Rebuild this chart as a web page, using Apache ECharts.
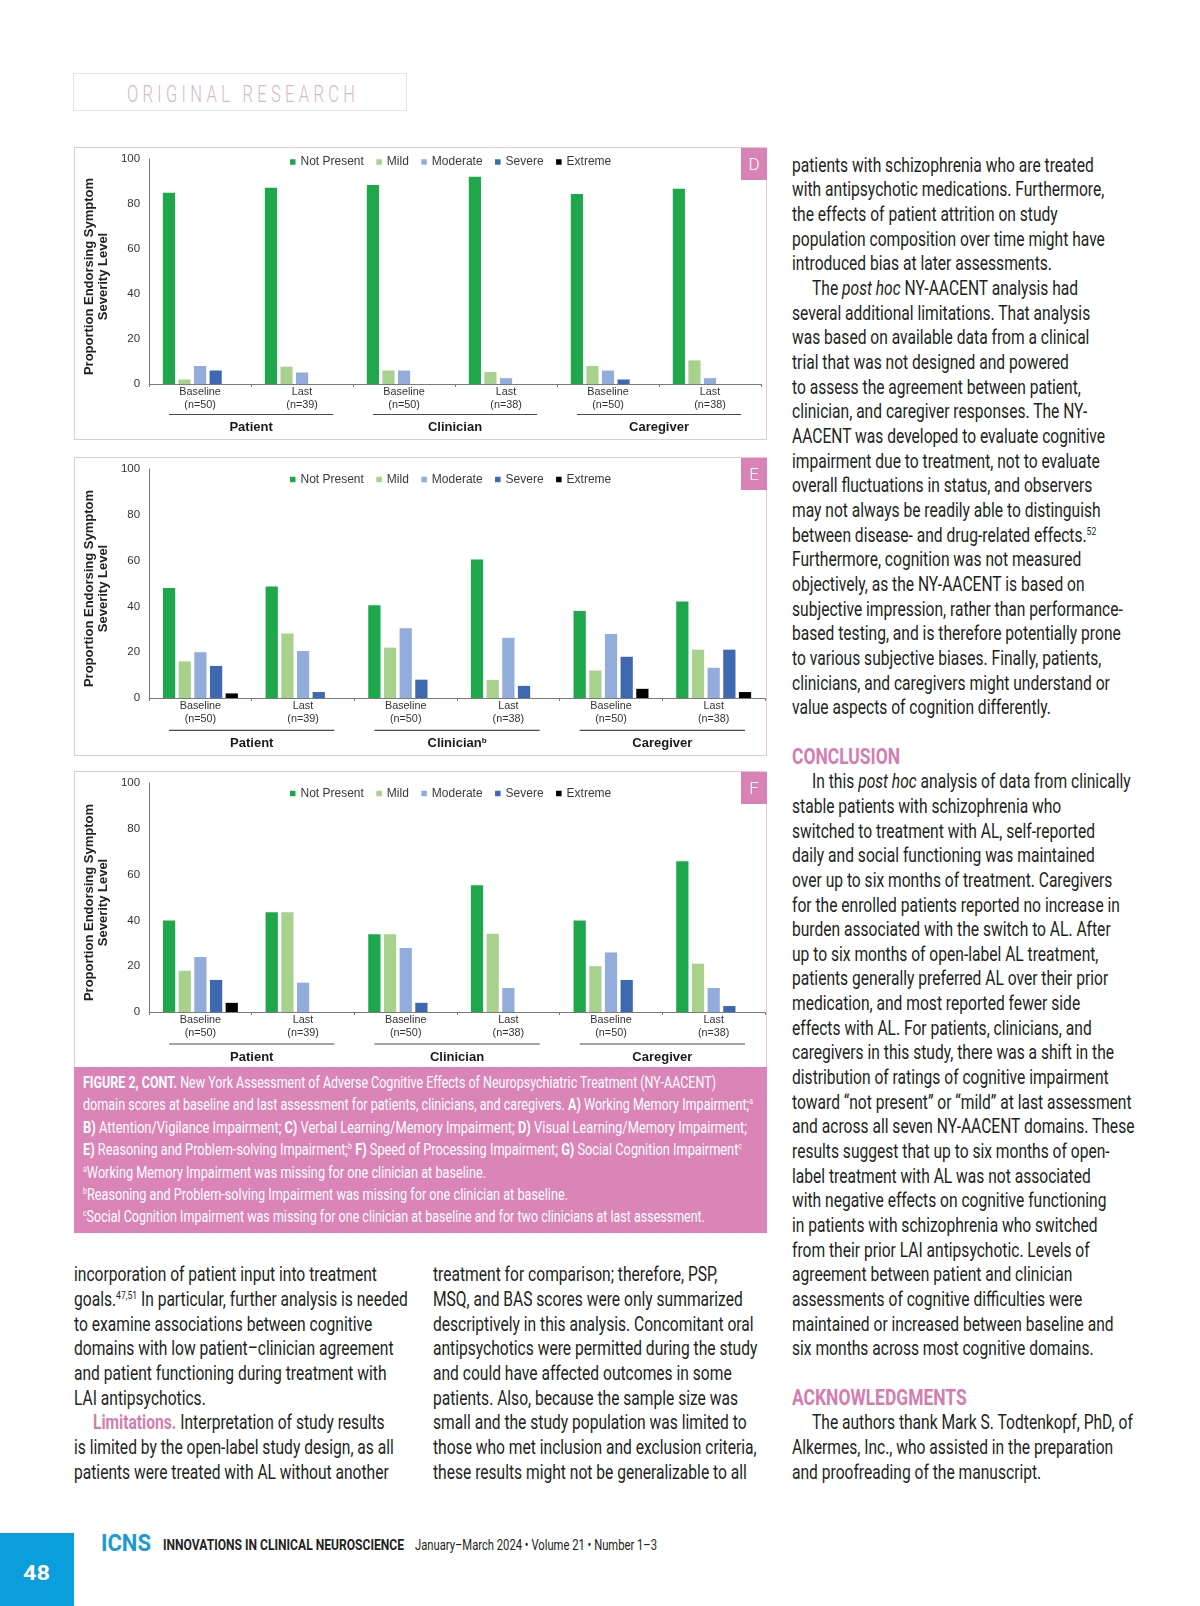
<!DOCTYPE html>
<html>
<head>
<meta charset="utf-8">
<script src="https://cdn.jsdelivr.net/npm/echarts/dist/echarts.min.js"></script>
<style>
html,body{margin:0;padding:0;background:#fff;}
body{width:1200px;height:1606px;position:relative;overflow:hidden;font-family:Roboto,"Liberation Sans",sans-serif;color:#231f20;}
.frame{position:absolute;border:1.5px solid #e8c8da;box-sizing:border-box;}
.chart{position:absolute;}
.tag{position:absolute;background:#d982b5;color:#fff;text-align:center;font-family:Roboto,sans-serif;font-weight:300;font-size:17px;line-height:32px;width:26px;height:32px;}
.ln{position:absolute;white-space:nowrap;transform-origin:0 0;}
.body{font-size:20.5px;line-height:24.66px;color:#231f20;}
.head{font-size:22.5px;line-height:24.66px;font-weight:bold;color:#d47db0;}
.pink{color:#d47db0;font-weight:bold;}
.cap{font-size:16.5px;line-height:22px;color:#fff;}
.sup{font-size:0.55em;vertical-align:0.65em;line-height:0;}
.ficns{font-size:23px;line-height:1;font-weight:bold;color:#1b9ad7;}
.fjour{font-size:15px;line-height:1;font-weight:bold;color:#231f20;}
.fdate{font-size:15px;line-height:1;color:#231f20;}
.fpage{font-size:21px;line-height:1;font-weight:bold;color:#fff;}
.orig{font-size:23px;line-height:1;font-weight:300;color:#dab8ca;}
#capbox{position:absolute;left:74px;top:1067px;width:693px;height:166px;background:#da84b7;}
#origbox{position:absolute;left:73px;top:73px;width:334px;height:38px;border:1px solid #ece4e8;box-sizing:border-box;}
#pagebox{position:absolute;left:0;top:1533px;width:74px;height:73px;background:#0a9fdc;}
</style>
</head>
<body>
<div id="origbox"></div>
<div class="frame" style="left:74px;top:147px;width:693px;height:293px;"></div>
<div class="frame" style="left:74px;top:457px;width:693px;height:299px;"></div>
<div class="frame" style="left:74px;top:771px;width:693px;height:297px;"></div>
<div id="capbox"></div>
<div id="pagebox"></div>
<div id="chartD" class="chart" style="left:74px;top:147px;width:693px;height:292px;"></div>
<div id="chartE" class="chart" style="left:74px;top:457px;width:693px;height:298px;"></div>
<div id="chartF" class="chart" style="left:74px;top:771px;width:693px;height:296px;"></div>
<div class="tag" style="left:741px;top:148px;">D</div>
<div class="tag" style="left:741px;top:458px;">E</div>
<div class="tag" style="left:741px;top:772px;">F</div>

<script>
// ---------------- DATA ----------------
const categories = ['Patient Baseline','Patient Last','Clinician Baseline','Clinician Last','Caregiver Baseline','Caregiver Last'];
const timepoints = ['Baseline','Last','Baseline','Last','Baseline','Last'];
const sampleSizes = [50, 39, 50, 38, 50, 38];
const raterGroups = ['Patient','Clinician','Caregiver'];
const severityLevels = ['Not Present','Mild','Moderate','Severe','Extreme'];
const yAxisName = 'Proportion Endorsing Symptom\nSeverity Level';

// Panel D – Visual Learning/Memory Impairment
const dNotPresent = [85, 87.2, 88.5, 92.1, 84.5, 86.8];
const dMild       = [2, 7.7, 6, 5.3, 8, 10.5];
const dModerate   = [8, 5.1, 6, 2.6, 6, 2.6];
const dSevere     = [6, 0, 0, 0, 2, 0];
const dExtreme    = [0, 0, 0, 0, 0, 0];

// Panel E – Reasoning and Problem-solving Impairment
const eNotPresent = [48, 48.7, 40.5, 60.5, 38, 42.1];
const eMild       = [16, 28.2, 22, 7.9, 12, 21.1];
const eModerate   = [20, 20.5, 30.5, 26.3, 28, 13.2];
const eSevere     = [14, 2.6, 8, 5.3, 18, 21.1];
const eExtreme    = [2, 0, 0, 0, 4, 2.6];

// Panel F – Speed of Processing Impairment
const fNotPresent = [40, 43.6, 34, 55.3, 40, 65.8];
const fMild       = [18, 43.6, 34, 34.2, 20, 21.1];
const fModerate   = [24, 12.8, 28, 10.5, 26, 10.5];
const fSevere     = [14, 0, 4, 0, 14, 2.6];
const fExtreme    = [4, 0, 0, 0, 0, 0];

const groupNotesD = ['', '', ''];
const groupNotesE = ['', 'b', ''];
const groupNotesF = ['', '', ''];

// ---------------- CHARTS ----------------
const severityColors = ['#1ea84b', '#a9d18e', '#92acdb', '#3e68b1', '#000000'];
const chartFont = '"Liberation Sans", Arial, sans-serif';

const panels = [
  {id:'chartD', values:[dNotPresent,dMild,dModerate,dSevere,dExtreme], notes:groupNotesD,
   grid:{left:72,right:6,top:12,bottom:55}, legendTop:4, legendLeft:211, nameGap:36, underline:30.5, groupCenter:43.5},
  {id:'chartE', values:[eNotPresent,eMild,eModerate,eSevere,eExtreme], notes:groupNotesE,
   grid:{left:67,right:2,top:12,bottom:57}, legendTop:11.5, legendLeft:211, nameGap:36, underline:32.3, groupCenter:45.5},
  {id:'chartF', values:[fNotPresent,fMild,fModerate,fSevere,fExtreme], notes:groupNotesF,
   grid:{left:67,right:2,top:12,bottom:55}, legendTop:11.5, legendLeft:211, nameGap:36, underline:32, groupCenter:45}
];

function buildPanel(p) {
  const chart = echarts.init(document.getElementById(p.id), null, {renderer:'canvas'});
  chart.setOption({
    animation:false,
    textStyle:{fontFamily:chartFont},
    legend:{data:severityLevels, left:p.legendLeft, top:p.legendTop, icon:'rect', itemWidth:5.5, itemHeight:5.5,
      itemGap:12.5, selectedMode:false, textStyle:{fontSize:12, color:'#3a3a3a', fontFamily:chartFont}},
    grid:p.grid,
    xAxis:[
      {type:'category', data:categories,
       axisLine:{lineStyle:{color:'#7a7a7a', width:1}},
       axisTick:{show:true, length:3, lineStyle:{color:'#7a7a7a'}},
       axisLabel:{interval:0, margin:2, fontSize:10.8, lineHeight:12.4, color:'#333', fontFamily:chartFont,
         formatter:(v,i)=> timepoints[i] + '\n(n=' + sampleSizes[i] + ')'}},
      {type:'category', data:raterGroups, position:'bottom',
       axisLine:{show:false}, axisTick:{show:false},
       axisLabel:{interval:0, margin:p.groupCenter-7,
         formatter:(v,i)=> '{t|' + v + '}' + (p.notes[i] ? '{s|' + p.notes[i] + '}' : ''),
         rich:{t:{fontSize:13, fontWeight:'bold', color:'#1a1a1a', lineHeight:14, fontFamily:chartFont},
               s:{fontSize:8, fontWeight:'bold', color:'#1a1a1a', lineHeight:8, verticalAlign:'top', fontFamily:chartFont}}}}
    ],
    yAxis:{type:'value', min:0, max:100, interval:20,
      axisLine:{show:true, lineStyle:{color:'#7a7a7a'}}, axisTick:{show:false}, splitLine:{show:false},
      axisLabel:{fontSize:11.5, color:'#333', margin:9, fontFamily:chartFont},
      name:yAxisName, nameLocation:'middle', nameRotate:90, nameGap:p.nameGap,
      nameTextStyle:{fontSize:13, fontWeight:'bold', lineHeight:14, color:'#222', fontFamily:chartFont, padding:[0,10,0,0]}},
    series: severityLevels.map((name,k)=>({
      type:'bar', name, data:p.values[k], barGap:'28%', barCategoryGap:'27%',
      itemStyle:{color:severityColors[k]}, silent:true
    }))
  });
  const y0 = chart.convertToPixel({yAxisIndex:0}, 0);
  const lines = raterGroups.map((g,k)=>{
    const xa = chart.convertToPixel({xAxisIndex:0}, categories[2*k]);
    const xb = chart.convertToPixel({xAxisIndex:0}, categories[2*k+1]);
    const mid = (xa+xb)/2, half = 0.805*(xb-xa);
    return {type:'line', silent:true, shape:{x1:mid-half, y1:y0+p.underline, x2:mid+half, y2:y0+p.underline},
      style:{stroke:'#4a4a4a', lineWidth:1.2}};
  });
  chart.setOption({graphic:lines});
}
panels.forEach(buildPanel);

// ---------------- PAGE TEXT ----------------
const P = '<span class="pink">', E = '</span>';
const sup = s => '<span class="sup">' + s + '</span>';
const rightCol = [
 [0,0,'body','patients with schizophrenia who are treated'],
 [1,0,'body','with antipsychotic medications. Furthermore,'],
 [2,0,'body','the effects of patient attrition on study'],
 [3,0,'body','population composition over time might have'],
 [4,0,'body','introduced bias at later assessments.'],
 [5,1,'body','The <i>post hoc</i> NY-AACENT analysis had'],
 [6,0,'body','several additional limitations. That analysis'],
 [7,0,'body','was based on available data from a clinical'],
 [8,0,'body','trial that was not designed and powered'],
 [9,0,'body','to assess the agreement between patient,'],
 [10,0,'body','clinician, and caregiver responses. The NY-'],
 [11,0,'body','AACENT was developed to evaluate cognitive'],
 [12,0,'body','impairment due to treatment, not to evaluate'],
 [13,0,'body','overall fluctuations in status, and observers'],
 [14,0,'body','may not always be readily able to distinguish'],
 [15,0,'body','between disease- and drug-related effects.' + sup('52')],
 [16,0,'body','Furthermore, cognition was not measured'],
 [17,0,'body','objectively, as the NY-AACENT is based on'],
 [18,0,'body','subjective impression, rather than performance-'],
 [19,0,'body','based testing, and is therefore potentially prone'],
 [20,0,'body','to various subjective biases. Finally, patients,'],
 [21,0,'body','clinicians, and caregivers might understand or'],
 [22,0,'body','value aspects of cognition differently.'],
 [24,0,'head','CONCLUSION'],
 [25,1,'body','In this <i>post hoc</i> analysis of data from clinically'],
 [26,0,'body','stable patients with schizophrenia who'],
 [27,0,'body','switched to treatment with AL, self-reported'],
 [28,0,'body','daily and social functioning was maintained'],
 [29,0,'body','over up to six months of treatment. Caregivers'],
 [30,0,'body','for the enrolled patients reported no increase in'],
 [31,0,'body','burden associated with the switch to AL. After'],
 [32,0,'body','up to six months of open-label AL treatment,'],
 [33,0,'body','patients generally preferred AL over their prior'],
 [34,0,'body','medication, and most reported fewer side'],
 [35,0,'body','effects with AL. For patients, clinicians, and'],
 [36,0,'body','caregivers in this study, there was a shift in the'],
 [37,0,'body','distribution of ratings of cognitive impairment'],
 [38,0,'body','toward “not present” or “mild” at last assessment'],
 [39,0,'body','and across all seven NY-AACENT domains. These'],
 [40,0,'body','results suggest that up to six months of open-'],
 [41,0,'body','label treatment with AL was not associated'],
 [42,0,'body','with negative effects on cognitive functioning'],
 [43,0,'body','in patients with schizophrenia who switched'],
 [44,0,'body','from their prior LAI antipsychotic. Levels of'],
 [45,0,'body','agreement between patient and clinician'],
 [46,0,'body','assessments of cognitive difficulties were'],
 [47,0,'body','maintained or increased between baseline and'],
 [48,0,'body','six months across most cognitive domains.'],
 [50,0,'head','ACKNOWLEDGMENTS'],
 [51,1,'body','The authors thank Mark S. Todtenkopf, PhD, of'],
 [52,0,'body','Alkermes, Inc., who assisted in the preparation'],
 [53,0,'body','and proofreading of the manuscript.']
];
const leftCol = [
 [45,0,'body','incorporation of patient input into treatment'],
 [46,0,'body','goals.' + sup('47,51') + ' In particular, further analysis is needed'],
 [47,0,'body','to examine associations between cognitive'],
 [48,0,'body','domains with low patient–clinician agreement'],
 [49,0,'body','and patient functioning during treatment with'],
 [50,0,'body','LAI antipsychotics.'],
 [51,1,'body',P + 'Limitations.' + E + ' Interpretation of study results'],
 [52,0,'body','is limited by the open-label study design, as all'],
 [53,0,'body','patients were treated with AL without another']
];
const midCol = [
 [45,0,'body','treatment for comparison; therefore, PSP,'],
 [46,0,'body','MSQ, and BAS scores were only summarized'],
 [47,0,'body','descriptively in this analysis. Concomitant oral'],
 [48,0,'body','antipsychotics were permitted during the study'],
 [49,0,'body','and could have affected outcomes in some'],
 [50,0,'body','patients. Also, because the sample size was'],
 [51,0,'body','small and the study population was limited to'],
 [52,0,'body','those who met inclusion and exclusion criteria,'],
 [53,0,'body','these results might not be generalizable to all']
];
// caption lines with their printed widths
const captionLines = [
 ['<b>FIGURE 2, CONT.</b> New York Assessment of Adverse Cognitive Effects of Neuropsychiatric Treatment (NY-AACENT)', 633],
 ['domain scores at baseline and last assessment for patients, clinicians, and caregivers. <b>A)</b> Working Memory Impairment;' + sup('a'), 670],
 ['<b>B)</b> Attention/Vigilance Impairment; <b>C)</b> Verbal Learning/Memory Impairment; <b>D)</b> Visual Learning/Memory Impairment;', 664],
 ['<b>E)</b> Reasoning and Problem-solving Impairment;' + sup('b') + ' <b>F)</b> Speed of Processing Impairment; <b>G)</b> Social Cognition Impairment' + sup('c'), 659],
 [sup('a') + 'Working Memory Impairment was missing for one clinician at baseline.', 403],
 [sup('b') + 'Reasoning and Problem-solving Impairment was missing for one clinician at baseline.', 485],
 [sup('c') + 'Social Cognition Impairment was missing for one clinician at baseline and for two clinicians at last assessment.', 622]
];

function measure(html, cls) {
  const t = document.createElement('div');
  t.className = 'ln ' + cls;
  t.style.visibility = 'hidden';
  t.innerHTML = html + '<span style="display:inline-block;width:0;height:0;vertical-align:baseline"></span>';
  document.body.appendChild(t);
  const r = t.getBoundingClientRect();
  const m = t.lastChild.getBoundingClientRect();
  const out = {w: r.width, base: m.top - r.top};
  t.remove();
  return out;
}
const scaleOf = {
  body: 303 / measure('switched to treatment with AL, self-reported', 'body').w,
  head: 108 / measure('CONCLUSION', 'head').w
};
const baseOf = {};
['body','head','cap'].forEach(c => baseOf[c] = measure('Hxg', c).base);

function place(x, baseline, html, cls, scale, extraStyle) {
  const d = document.createElement('div');
  d.className = 'ln ' + cls;
  d.innerHTML = html;
  const b = baseOf[cls] !== undefined ? baseOf[cls] : measure('Hxg', cls).base;
  d.style.left = x + 'px';
  d.style.top = (baseline - b) + 'px';
  d.style.transform = 'scaleX(' + scale + ')';
  if (extraStyle) Object.assign(d.style, extraStyle);
  document.body.appendChild(d);
  return d;
}
const LINE = 24.66, BASE0 = 171.7;
function placeCol(col, x, indent) {
  col.forEach(([i, ind, cls, html]) => place(x + (ind ? indent : 0), BASE0 + LINE * i, html, cls, scaleOf[cls]));
}
placeCol(rightCol, 792, 20);
placeCol(leftCol, 74, 19);
placeCol(midCol, 433, 19);
captionLines.forEach(([h, w], k) => place(83.4, 1088 + 22.4 * k, h, 'cap', w / measure(h, 'cap').w));

// footer
function fit(html, cls, x, baseline, target) {
  const m = measure(html, cls);
  baseOf[cls] = m.base;
  place(x, baseline, html, cls, target / m.w);
}
fit('ICNS', 'ficns', 100.5, 1550.7, 50);
fit('INNOVATIONS IN CLINICAL NEUROSCIENCE', 'fjour', 163, 1550, 241);
fit('January–March 2024 • Volume 21 • Number 1–3', 'fdate', 415, 1550, 242);
fit('48', 'fpage', 22.5, 1580, 27);

// ORIGINAL RESEARCH header
(function(){
  const txt = 'ORIGINAL RESEARCH';
  const s = 0.72;
  const w0 = measure(txt, 'orig').w;
  const ls = (228 / s - w0) / (txt.length - 1);
  baseOf.orig = measure('Hxg', 'orig').base;
  place(127, 101.7, txt, 'orig', s, {letterSpacing: ls + 'px'});
})();
</script>
</body>
</html>
